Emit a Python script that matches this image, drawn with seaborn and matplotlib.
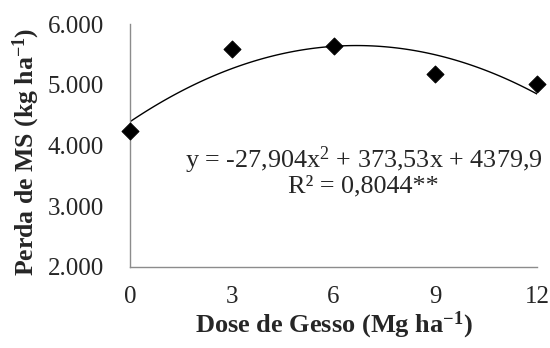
# Perda de MS vs dose de gesso - quadratic fit

import pandas as pd
import matplotlib.pyplot as plt
import seaborn as sns

# data
dose = [0, 3, 6, 9, 12]
perda = [4231, 5587, 5631, 5174, 5008]
y_ticks = [2000, 3000, 4000, 5000, 6000]
y_tick_labels = ['2.000', '3.000', '4.000', '5.000', '6.000']
eq_line1 = 'y = -27,904x$^{2}$ + 373,53x + 4379,9'
eq_line2 = 'R² = 0,8044**'

df = pd.DataFrame({'dose': dose, 'perda': perda})

sns.set_style('white')
plt.rcParams['font.family'] = ['Liberation Serif', 'DejaVu Serif']
plt.rcParams['mathtext.default'] = 'regular'

fig = plt.figure(figsize = (5.5, 3.48), dpi = 100)
ax = fig.add_axes([0.2364, 0.2328, 0.74, 0.6982])

# fitted 2nd order curve
sns.regplot(ax = ax, data = df, x = 'dose', y = 'perda',
            order = 2, ci = None, scatter = False,
            line_kws = {'color': 'black', 'lw': 1.0})

# observed means
sns.scatterplot(ax = ax, data = df, x = 'dose', y = 'perda',
                marker = 'D', s = 75, color = 'black',
                edgecolor = 'black', zorder = 3, clip_on = False)

ax.set(xlim = (0, 12), ylim = (2000, 6000))
ax.set_xticks(dose)
ax.set_yticks(y_ticks)
ax.set_yticklabels(y_tick_labels)
ax.tick_params(axis = 'both', length = 0, labelsize = 18)
ax.tick_params(axis = 'y', pad = 19)
ax.tick_params(axis = 'x', pad = 14)

for side in ['top', 'right']:
    ax.spines[side].set_visible(False)
for side in ['left', 'bottom']:
    ax.spines[side].set_color('#8c8c8c')
    ax.spines[side].set_linewidth(1.0)

ax.set_xlabel('Dose de Gesso (Mg ha$^{-1}$)', fontsize = 19, fontweight = 'bold')
ax.set_ylabel('Perda de MS (kg ha$^{-1}$)', fontsize = 18.5, fontweight = 'bold')
ax.xaxis.set_label_coords(0.5, -0.175)
ax.yaxis.set_label_coords(-0.216, 0.473)

ax.text(6.88, 3636, eq_line1, ha = 'center', va = 'baseline', fontsize = 18.8)
ax.text(6.88, 3223, eq_line2, ha = 'center', va = 'baseline', fontsize = 18.8)

fig.savefig('out.png', dpi = 100)
plt.close()
